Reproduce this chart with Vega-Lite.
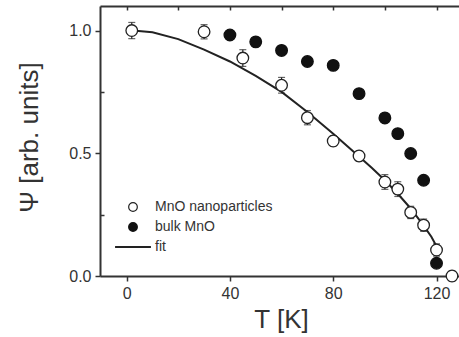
{
  "$schema": "https://vega.github.io/schema/vega-lite/v6.json",
  "width": 359,
  "height": 270,
  "autosize": {"type": "none"},
  "padding": {"left": 100, "top": 6, "right": 0, "bottom": 61},
  "background": "white",
  "config": {
    "view": {"stroke": null},
    "font": "Liberation Sans",
    "axis": {
      "domainColor": "#333333",
      "domainWidth": 2,
      "tickColor": "#333333",
      "tickWidth": 1.5,
      "grid": false,
      "labelColor": "#333333",
      "titleColor": "#333333",
      "labelFont": "Liberation Sans",
      "titleFont": "Liberation Sans",
      "labelFontSize": 16,
      "titleFontSize": 26,
      "titleFontWeight": "normal"
    }
  },
  "datasets": {
    "fitcurve": [
      {"T": 2.5, "Psi": 1.0},
      {"T": 10, "Psi": 0.993},
      {"T": 20, "Psi": 0.965},
      {"T": 30, "Psi": 0.922},
      {"T": 40, "Psi": 0.874},
      {"T": 50, "Psi": 0.815},
      {"T": 60, "Psi": 0.75},
      {"T": 70, "Psi": 0.668},
      {"T": 80, "Psi": 0.58},
      {"T": 90, "Psi": 0.487},
      {"T": 95, "Psi": 0.44},
      {"T": 100, "Psi": 0.39},
      {"T": 105, "Psi": 0.335},
      {"T": 110, "Psi": 0.275},
      {"T": 115, "Psi": 0.205},
      {"T": 118, "Psi": 0.16},
      {"T": 120.2, "Psi": 0.117}
    ],
    "points": [
      {"series": "MnO nanoparticles", "T": 2, "Psi": 1.0, "lo": 0.967, "hi": 1.033},
      {"series": "MnO nanoparticles", "T": 30, "Psi": 0.995, "lo": 0.966, "hi": 1.024},
      {"series": "MnO nanoparticles", "T": 45, "Psi": 0.888, "lo": 0.854, "hi": 0.922},
      {"series": "MnO nanoparticles", "T": 60, "Psi": 0.777, "lo": 0.745, "hi": 0.809},
      {"series": "MnO nanoparticles", "T": 70, "Psi": 0.645, "lo": 0.616, "hi": 0.674},
      {"series": "MnO nanoparticles", "T": 80, "Psi": 0.55, "lo": 0.53, "hi": 0.57},
      {"series": "MnO nanoparticles", "T": 90, "Psi": 0.489, "lo": 0.469, "hi": 0.509},
      {"series": "MnO nanoparticles", "T": 100, "Psi": 0.383, "lo": 0.353, "hi": 0.413},
      {"series": "MnO nanoparticles", "T": 105, "Psi": 0.354, "lo": 0.324, "hi": 0.384},
      {"series": "MnO nanoparticles", "T": 110, "Psi": 0.259, "lo": 0.234, "hi": 0.284},
      {"series": "MnO nanoparticles", "T": 115, "Psi": 0.207, "lo": 0.182, "hi": 0.232},
      {"series": "MnO nanoparticles", "T": 120, "Psi": 0.106, "lo": 0.081, "hi": 0.131},
      {"series": "MnO nanoparticles", "T": 126, "Psi": 0.0, "lo": -0.02, "hi": 0.02},
      {"series": "bulk MnO", "T": 40, "Psi": 0.982, "lo": 0.97, "hi": 0.994},
      {"series": "bulk MnO", "T": 50, "Psi": 0.954, "lo": 0.942, "hi": 0.966},
      {"series": "bulk MnO", "T": 60, "Psi": 0.919, "lo": 0.907, "hi": 0.931},
      {"series": "bulk MnO", "T": 70, "Psi": 0.874, "lo": 0.862, "hi": 0.886},
      {"series": "bulk MnO", "T": 80, "Psi": 0.858, "lo": 0.846, "hi": 0.87},
      {"series": "bulk MnO", "T": 90, "Psi": 0.743, "lo": 0.731, "hi": 0.755},
      {"series": "bulk MnO", "T": 100, "Psi": 0.644, "lo": 0.632, "hi": 0.656},
      {"series": "bulk MnO", "T": 105, "Psi": 0.58, "lo": 0.568, "hi": 0.592},
      {"series": "bulk MnO", "T": 110, "Psi": 0.499, "lo": 0.487, "hi": 0.511},
      {"series": "bulk MnO", "T": 115, "Psi": 0.39, "lo": 0.378, "hi": 0.402},
      {"series": "bulk MnO", "T": 120, "Psi": 0.052, "lo": 0.04, "hi": 0.064}
    ]
  },
  "layer": [
    {
      "layer": [
        {
          "data": {"name": "fitcurve"},
          "mark": {"type": "line", "color": "#222222", "strokeWidth": 2},
          "encoding": {
            "x": {"field": "T", "type": "quantitative", "scale": {"domain": [-10.3, 128.7], "nice": false, "zero": false},
              "axis": {"title": "T [K]", "values": [0, 40, 80, 120], "tickSize": 5, "labelPadding": 4, "titleX": 181, "titleY": 51, "titleBaseline": "alphabetic"}},
            "y": {"field": "Psi", "type": "quantitative", "scale": {"domain": [0, 1.1], "nice": false},
              "axis": {"title": "Ψ [arb. units]", "values": [0, 0.5, 1.0], "format": ".1f", "tickSize": 5, "labelPadding": 4, "titleX": -63, "titleY": 131, "titleBaseline": "alphabetic", "titleAngle": -90}}
          }
        },
        {
          "data": {"name": "points"},
          "transform": [{"filter": "datum.series === 'MnO nanoparticles'"}],
          "mark": {"type": "errorbar", "color": "#222222", "ticks": {"size": 7, "thickness": 1.2}, "rule": {"strokeWidth": 1.2}, "clip": false},
          "encoding": {
            "x": {"field": "T", "type": "quantitative", "scale": {"domain": [-10.3, 128.7], "nice": false, "zero": false},
              "axis": {"title": "T [K]", "values": [0, 40, 80, 120], "tickSize": 5, "labelPadding": 4, "titleX": 181, "titleY": 51, "titleBaseline": "alphabetic"}},
            "y": {"field": "lo", "type": "quantitative", "scale": {"domain": [0, 1.1], "nice": false},
              "axis": {"title": "Ψ [arb. units]", "values": [0, 0.5, 1.0], "format": ".1f", "tickSize": 5, "labelPadding": 4, "titleX": -63, "titleY": 131, "titleBaseline": "alphabetic", "titleAngle": -90}},
            "y2": {"field": "hi"}
          }
        },
        {
          "data": {"name": "points"},
          "mark": {"type": "point", "filled": true, "size": 135, "strokeWidth": 1.3, "opacity": 1, "clip": false},
          "encoding": {
            "x": {"field": "T", "type": "quantitative", "scale": {"domain": [-10.3, 128.7], "nice": false, "zero": false},
              "axis": {"title": "T [K]", "values": [0, 40, 80, 120], "tickSize": 5, "labelPadding": 4, "titleX": 181, "titleY": 51, "titleBaseline": "alphabetic"}},
            "y": {"field": "Psi", "type": "quantitative", "scale": {"domain": [0, 1.1], "nice": false},
              "axis": {"title": "Ψ [arb. units]", "values": [0, 0.5, 1.0], "format": ".1f", "tickSize": 5, "labelPadding": 4, "titleX": -63, "titleY": 131, "titleBaseline": "alphabetic", "titleAngle": -90}},
            "shape": {"field": "series", "type": "nominal",
              "scale": {"domain": ["MnO nanoparticles", "bulk MnO", "fit"], "range": ["circle", "circle", "M-4,-0.12H4V0.12H-4Z"]},
              "legend": {"orient": "none", "legendX": 26, "legendY": 194, "title": null, "padding": 0,
                "labelFont": "Liberation Sans", "labelFontSize": 14, "labelColor": "#333333",
                "symbolSize": 75, "symbolStrokeWidth": 1.2, "rowPadding": 6, "labelOffset": 15}},
            "fill": {"field": "series", "type": "nominal",
              "scale": {"domain": ["MnO nanoparticles", "bulk MnO", "fit"], "range": ["#ffffff", "#111111", "#222222"]}},
            "stroke": {"field": "series", "type": "nominal",
              "scale": {"domain": ["MnO nanoparticles", "bulk MnO", "fit"], "range": ["#222222", "#111111", "#222222"]}}
          }
        }
      ]
    },
    {
      "data": {"name": "fitcurve"},
      "mark": {"type": "point", "opacity": 0},
      "encoding": {
        "x": {"field": "T", "type": "quantitative", "scale": {"domain": [-10.3, 128.7], "nice": false, "zero": false},
          "axis": {"orient": "top", "title": null, "labels": false, "values": [0, 20, 40, 60, 80, 100, 120], "tickSize": -4, "domainWidth": 2}},
        "y": {"field": "Psi", "type": "quantitative", "scale": {"domain": [0, 1.1], "nice": false},
          "axis": {"orient": "left", "title": null, "labels": false, "domain": false, "values": [0.25, 0.75], "tickSize": -4}}
      }
    }
  ],
  "resolve": {"scale": {"x": "independent", "y": "independent"}}
}
